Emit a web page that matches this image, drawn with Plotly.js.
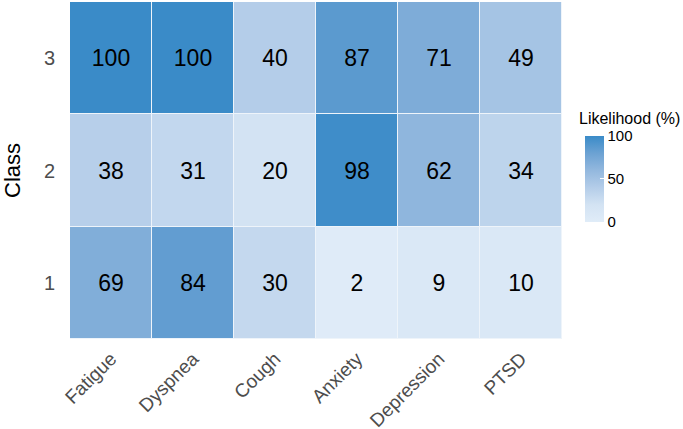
<!DOCTYPE html>
<html>
<head>
<meta charset="utf-8">
<script src="https://cdn.plot.ly/plotly-3.0.1.min.js"></script>
<style>
  body { margin: 0; background: #fff; }
  #chart { width: 683px; height: 429px; }
</style>
</head>
<body>
<div id="chart"></div>
<script>
// Symptoms along the bottom, latent classes up the side
const symptoms = ['Fatigue', 'Dyspnea', 'Cough', 'Anxiety', 'Depression', 'PTSD'];
const classes = ['1', '2', '3'];

// Likelihood (%) per class, one row per class
const class1 = [69, 84, 30, 2, 9, 10];
const class2 = [38, 31, 20, 98, 62, 34];
const class3 = [100, 100, 40, 87, 71, 49];

const colorbarTicks = [0, 50, 100];

const data = [
    {
        type: 'heatmap',
        x: symptoms,
        y: classes,
        z: [class1, class2, class3],
        zmin: 0,
        zmax: 100,
        xgap: 1,
        ygap: 1,
        colorscale: [
            [0, '#e0ecf8'],
            [0.2, '#d3e3f3'],
            [0.4, '#b4cde9'],
            [0.6, '#93b8de'],
            [0.8, '#6ca2d3'],
            [1, '#3a8bc8']
        ],
        texttemplate: '%{z}',
        textfont: { family: 'Liberation Sans, Arial', size: 23, color: '#000' },
        hoverongaps: false,
        colorbar: {
            tickvals: colorbarTicks,
            ticktext: colorbarTicks.map(String),
            tickfont: { family: 'Liberation Sans, Arial', size: 15, color: '#000' },
            ticks: 'inside',
            ticklen: 4,
            tickcolor: '#ffffff',
            thickness: 19,
            thicknessmode: 'pixels',
            len: 86,
            lenmode: 'pixels',
            x: 1.047,
            xanchor: 'left',
            y: 0.476,
            yanchor: 'middle',
            outlinewidth: 0,
            xpad: 0,
            ypad: 0
        }
    }
];

const layout = {
    width: 683,
    height: 429,
    margin: { l: 70, r: 121, t: 2, b: 90 },
    paper_bgcolor: '#ffffff',
    plot_bgcolor: '#eef4fa',
    font: { family: 'Liberation Sans, Arial', color: '#4d4d4d' },
    xaxis: {
        type: 'category',
        tickangle: -45,
        tickfont: { size: 19, color: '#4d4d4d' },
        showgrid: false,
        zeroline: false,
        showline: false,
        ticks: '',
        ticklabelstandoff: 4
    },
    yaxis: {
        type: 'category',
        title: { text: 'Class', font: { size: 22, color: '#000' }, standoff: 18 },
        tickfont: { size: 20, color: '#4d4d4d' },
        showgrid: false,
        zeroline: false,
        showline: false,
        ticks: '',
        ticklabelstandoff: 14
    },
    // legend title drawn as a note so it keeps clear of the "100" tick
    annotations: [
        {
            text: 'Likelihood (%)',
            xref: 'paper', yref: 'paper',
            x: 1.03, y: 0.622,
            xanchor: 'left', yanchor: 'bottom',
            showarrow: false,
            font: { family: 'Liberation Sans, Arial', size: 16, color: '#000' }
        }
    ]
};

Plotly.newPlot('chart', data, layout, { displayModeBar: false, staticPlot: true });
</script>
</body>
</html>
